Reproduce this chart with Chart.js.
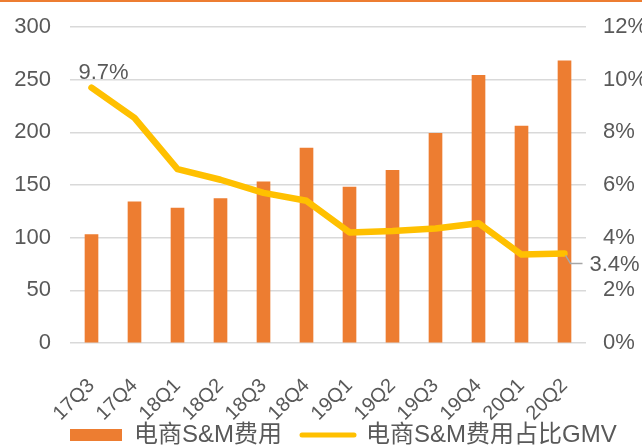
<!DOCTYPE html>
<html>
<head>
<meta charset="utf-8">
<script src="https://cdn.jsdelivr.net/npm/chart.js@4/dist/chart.umd.min.js"></script>
<style>
    html, body { margin: 0; padding: 0; background: #fff; overflow: hidden; }
    #wrap { width: 642px; height: 445px; }
</style>
</head>
<body>
<div id="wrap"><canvas id="smChart" width="642" height="445"></canvas></div>
<script>
// quarters on the x axis
const quarters = ['17Q3', '17Q4', '18Q1', '18Q2', '18Q3', '18Q4', '19Q1', '19Q2', '19Q3', '19Q4', '20Q1', '20Q2'];

// 电商S&M费用 (left axis)
const smExpense = [103, 134, 128, 137, 153, 185, 148, 164, 199, 254, 206, 268];

// 电商S&M费用占比GMV, in % (right axis)
const smRatio = [9.7, 8.55, 6.6, 6.2, 5.7, 5.4, 4.2, 4.25, 4.35, 4.55, 3.36, 3.4];

// axis ticks
const leftTicks  = [0, 50, 100, 150, 200, 250, 300];
const rightTicks = ['0%', '2%', '4%', '6%', '8%', '10%', '12%'];

// which points of the line get a value label
const labelledPoints = [0, smRatio.length - 1];

const orange = '#ED7D31';
const yellow = '#FFC000';
const grey   = '#595959';
const fontFamily = "'Liberation Sans', 'Noto Sans CJK SC', sans-serif";

// ===== little plugins =====
const topBorder = {
    id: 'topBorder',
    beforeDraw(chart) {
        const ctx = chart.ctx;
        ctx.save();
        ctx.fillStyle = orange;
        ctx.fillRect(0, 0, chart.width, 2);
        ctx.restore();
    }
};

// let the rotated quarter labels run down to the canvas edge,
// and move the legend under the plot's left edge like the original
const layoutTweak = {
    id: 'layoutTweak',
    afterLayout(chart) {
        chart.scales.x.bottom = chart.height;
        const lg = chart.legend;
        const pad = lg.options.labels.padding;
        const h = lg.height;
        lg.left = chart.chartArea.left - pad;
        lg.right = chart.width + 200;
        lg.top = 435 - pad - 12;
        lg.bottom = lg.top + h;
    }
};

const pointLabels = {
    id: 'pointLabels',
    afterDatasetsDraw(chart) {
        const ctx = chart.ctx;
        const meta = chart.getDatasetMeta(1);
        ctx.save();
        ctx.font = '22px ' + fontFamily;
        ctx.fillStyle = grey;
        labelledPoints.forEach(i => {
            const pt = meta.data[i];
            const text = smRatio[i].toFixed(1) + '%';
            if (i === 0) {
                ctx.textAlign = 'center';
                ctx.textBaseline = 'alphabetic';
                ctx.fillText(text, pt.x + 12, pt.y - 9);
            } else {
                // leader line off to the right
                ctx.strokeStyle = '#A6A6A6';
                ctx.lineWidth = 1.5;
                ctx.beginPath();
                ctx.moveTo(pt.x + 1, pt.y + 2);
                ctx.lineTo(pt.x + 6, pt.y + 10);
                ctx.lineTo(pt.x + 18, pt.y + 10);
                ctx.stroke();
                ctx.textAlign = 'left';
                ctx.textBaseline = 'middle';
                ctx.fillText(text, pt.x + 25, pt.y + 11);
            }
        });
        ctx.restore();
    }
};

new Chart(document.getElementById('smChart').getContext('2d'), {
    data: {
        labels: quarters,
        datasets: [{
            type: 'bar',
            label: '电商S&M费用',
            data: smExpense,
            backgroundColor: orange,
            barThickness: 13,
            yAxisID: 'y',
            order: 2
        }, {
            type: 'line',
            label: '电商S&M费用占比GMV',
            data: smRatio,
            borderColor: yellow,
            backgroundColor: yellow,
            borderWidth: 6.5,
            borderJoinStyle: 'round',
            borderCapStyle: 'round',
            pointRadius: 0,
            tension: 0,
            yAxisID: 'y1',
            order: 1
        }]
    },
    options: {
        responsive: false,
        animation: false,
        layout: { padding: { top: 27, left: 0, right: 0, bottom: 0 } },
        plugins: {
            tooltip: { enabled: false },
            legend: {
                position: 'bottom',
                align: 'start',
                labels: {
                    color: grey,
                    font: { family: fontFamily, size: 24 },
                    usePointStyle: true,
                    pointStyleWidth: 52,
                    boxHeight: 12,
                    padding: 20,
                    generateLabels: chart => chart.data.datasets.map((ds, i) => ({
                        text: ds.label,
                        fillStyle: i === 0 ? orange : yellow,
                        strokeStyle: i === 0 ? orange : yellow,
                        lineWidth: i === 0 ? 0 : 5,
                        lineCap: 'round',
                        pointStyle: i === 0 ? 'rect' : 'line',
                        fontColor: grey,
                        datasetIndex: i
                    }))
                }
            }
        },
        scales: {
            x: {
                grid: { display: false },
                border: { display: false },
                ticks: {
                    color: grey,
                    font: { family: fontFamily, size: 20 },
                    minRotation: 45,
                    maxRotation: 45,
                    padding: 23
                },
                afterFit: s => { s.height = 48; s.paddingLeft = 0; s.paddingRight = 0; }
            },
            y: {
                position: 'left',
                min: leftTicks[0],
                max: leftTicks[leftTicks.length - 1],
                afterBuildTicks: s => { s.ticks = leftTicks.map(v => ({ value: v })); },
                grid: { color: '#D9D9D9', lineWidth: 1.5, drawTicks: false },
                border: { display: false },
                ticks: {
                    color: grey,
                    font: { family: fontFamily, size: 22 },
                    padding: 19
                },
                afterFit: s => { s.width = 70; s.paddingTop = 0; s.paddingBottom = 0; }
            },
            y1: {
                position: 'right',
                min: 0,
                max: 12,
                afterBuildTicks: s => { s.ticks = rightTicks.map((t, i) => ({ value: i * 2 })); },
                grid: { display: false, drawTicks: false },
                border: { display: false },
                ticks: {
                    color: grey,
                    font: { family: fontFamily, size: 22 },
                    padding: 17,
                    callback: (val, idx) => rightTicks[idx]
                },
                afterFit: s => { s.width = 56; s.paddingTop = 0; s.paddingBottom = 0; }
            }
        }
    },
    plugins: [topBorder, layoutTweak, pointLabels]
});
</script>
</body>
</html>
